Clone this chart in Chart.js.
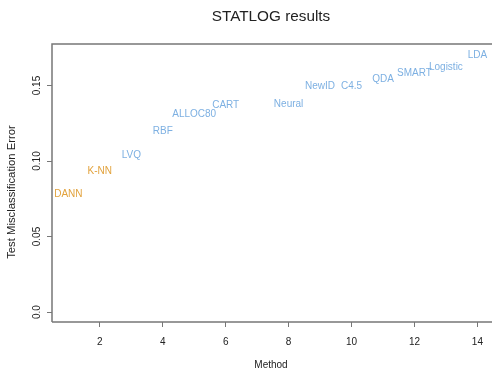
<!DOCTYPE html>
<html>
<head>
<meta charset="utf-8">
<script src="https://cdn.jsdelivr.net/npm/chart.js@4"></script>
<style>
  html, body { margin: 0; padding: 0; background: #fff; }
  #wrap { width: 492px; height: 370px; }
</style>
</head>
<body>
<div id="wrap"><canvas id="chart"></canvas></div>
<script>
// dados
const methods = ['DANN', 'K-NN', 'LVQ', 'RBF', 'ALLOC80', 'CART', 'Neural', 'NewID', 'C4.5', 'QDA', 'SMART', 'Logistic', 'LDA'];
const methodIndex = [1, 2, 3, 4, 5, 6, 8, 9, 10, 11, 12, 13, 14];
const testError = [0.0777, 0.0929, 0.1040, 0.1198, 0.1309, 0.1367, 0.1378, 0.1493, 0.1493, 0.1541, 0.1581, 0.1623, 0.1697];
const groups = ['nn', 'nn', 'other', 'other', 'other', 'other', 'other', 'other', 'other', 'other', 'other', 'other', 'other'];
const xTicks = [2, 4, 6, 8, 10, 12, 14];
const yTicks = [0, 0.05, 0.10, 0.15];
const yTickLabels = ['0.0', '0.05', '0.10', '0.15'];

const groupColors = { nn: '#E2A23C', other: '#7DB0E2' };
const axisColor = '#777777';
const textColor = '#222222';
const font = 'Liberation Sans, Arial, Helvetica, sans-serif';

const points = methodIndex.map((x, i) => ({ x: x, y: testError[i] }));

// Desenha os nomes dos métodos no lugar dos pontos
const labelPlugin = {
    id: 'methodLabels',
    afterDatasetsDraw(chart) {
        const ctx = chart.ctx;
        const meta = chart.getDatasetMeta(0);
        ctx.save();
        ctx.font = '10px ' + font;
        ctx.textAlign = 'center';
        ctx.textBaseline = 'middle';
        meta.data.forEach((pt, i) => {
            ctx.fillStyle = groupColors[groups[i]];
            ctx.fillText(methods[i], pt.x, pt.y);
        });
        ctx.restore();
    }
};

// Moldura do gráfico (box) e título do eixo y
const framePlugin = {
    id: 'frame',
    afterDraw(chart) {
        const a = chart.chartArea;
        const ctx = chart.ctx;
        ctx.save();
        ctx.strokeStyle = axisColor;
        ctx.lineWidth = 1.5;
        ctx.beginPath();
        ctx.moveTo(a.left, a.bottom);
        ctx.lineTo(a.left, a.top);
        ctx.lineTo(a.right + 5, a.top);
        ctx.moveTo(a.left, a.bottom);
        ctx.lineTo(a.right + 5, a.bottom);
        ctx.stroke();

        ctx.translate(12, 192);
        ctx.rotate(-Math.PI / 2);
        ctx.font = '11.3px ' + font;
        ctx.fillStyle = textColor;
        ctx.textAlign = 'center';
        ctx.textBaseline = 'middle';
        ctx.fillText('Test Misclassification Error', 0, 0);
        ctx.restore();
    }
};

const ctx = document.getElementById('chart').getContext('2d');
new Chart(ctx, {
    type: 'scatter',
    data: {
        datasets: [{
            data: points,
            pointRadius: 0,
            pointHoverRadius: 0,
            showLine: false
        }]
    },
    options: {
        responsive: true,
        maintainAspectRatio: false,
        animation: false,
        events: [],
        layout: { padding: 0 },
        plugins: {
            legend: { display: false },
            tooltip: { enabled: false },
            title: {
                display: true,
                text: 'STATLOG results',
                fullSize: false,
                color: textColor,
                font: { family: font, size: 15.3, weight: 'normal', lineHeight: 1.2 },
                padding: { top: 8, bottom: 17.6 }
            }
        },
        scales: {
            x: {
                type: 'linear',
                min: 0.48,
                max: 14.4,
                afterBuildTicks(scale) {
                    scale.ticks = xTicks.map(v => ({ value: v }));
                },
                afterFit(scale) {
                    scale.height = 48;
                },
                grid: {
                    drawOnChartArea: false,
                    drawTicks: true,
                    tickLength: 5,
                    color: axisColor,
                    lineWidth: 1
                },
                border: { display: false },
                ticks: {
                    color: textColor,
                    padding: 9,
                    maxRotation: 0,
                    font: { family: font, size: 10 },
                    callback: v => String(v)
                },
                title: {
                    display: true,
                    text: 'Method',
                    color: textColor,
                    font: { family: font, size: 10, lineHeight: 0.9 },
                    padding: { top: 0, bottom: 0 }
                }
            },
            y: {
                type: 'linear',
                min: -0.0066,
                max: 0.1775,
                afterBuildTicks(scale) {
                    scale.ticks = yTicks.map(v => ({ value: v }));
                },
                afterFit(scale) {
                    scale.width = 52;
                },
                grid: {
                    drawOnChartArea: false,
                    drawTicks: true,
                    tickLength: 5,
                    color: axisColor,
                    lineWidth: 1
                },
                border: { display: false },
                ticks: {
                    color: textColor,
                    padding: 0,
                    minRotation: 90,
                    maxRotation: 90,
                    crossAlign: 'center',
                    font: { family: font, size: 10 },
                    callback: (v, i) => yTickLabels[i]
                },
                title: { display: false }
            }
        }
    },
    plugins: [labelPlugin, framePlugin]
});
</script>
</body>
</html>
